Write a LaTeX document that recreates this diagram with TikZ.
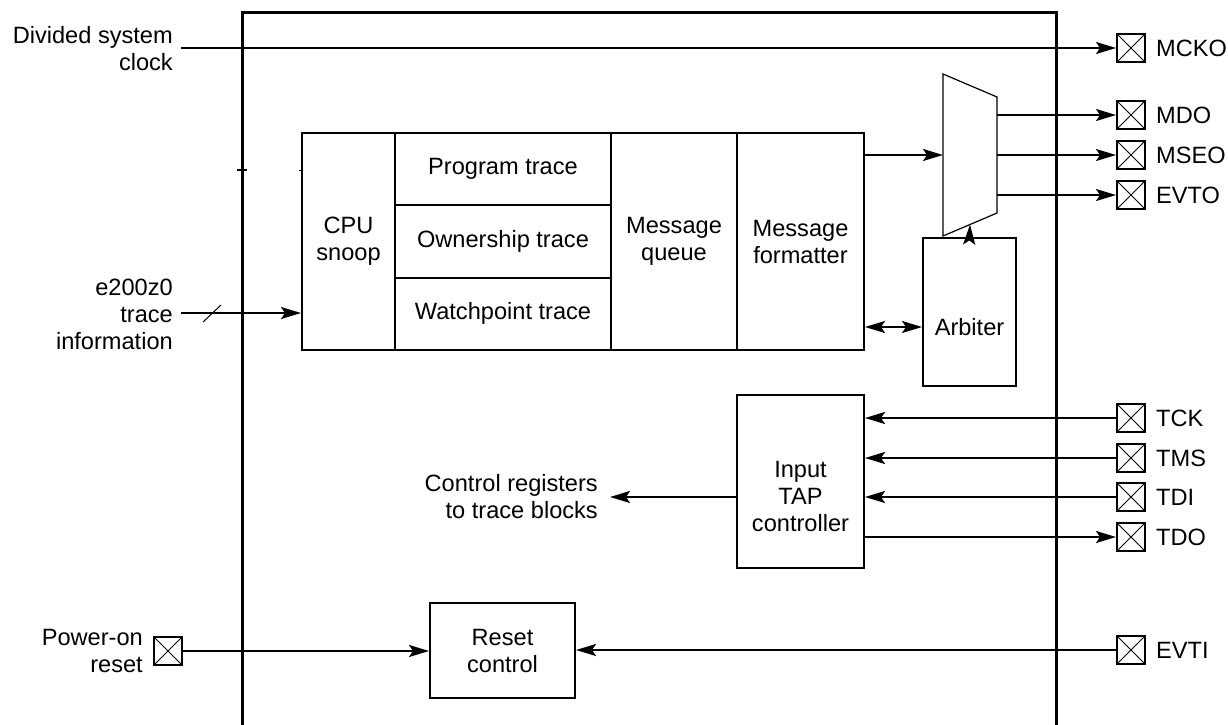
\documentclass[tikz,border=0pt]{standalone}
\usepackage{fontspec}
\setmainfont{Liberation Sans}
\usetikzlibrary{arrows.meta,calc}
\begin{document}
\begin{tikzpicture}[x=1pt,y=-1pt,
  every node/.style={font=\fontsize{23.6}{27}\selectfont, inner sep=0pt},
  blk/.style={draw, line width=2pt, align=center},
  pin/.style={draw, line width=2pt, minimum size=28pt,
    path picture={\draw[line width=1pt]
      (path picture bounding box.north west)--(path picture bounding box.south east)
      (path picture bounding box.north east)--(path picture bounding box.south west);}},
  wire/.style={line width=2pt},
  lbl/.style={align=right, anchor=east},
  pinlbl/.style={anchor=west},
  >={Stealth[length=20pt,width=12pt,inset=4pt]}]
\useasboundingbox (0,0) rectangle (1228,725);
% outer frame (open at bottom)
\draw[line width=3pt] (242,735) -- (242,13) -- (1056,13) -- (1056,735);
% small ticks
\draw[line width=1.5pt] (237,170) -- (247,170);
\draw[line width=1pt] (299,170) -- (303,170);
% main trace block
\node[blk, minimum width=93pt, minimum height=217pt] (snoop) at (348.5,241.5) {CPU\\snoop};
\node[blk, minimum width=216pt, minimum height=72.33pt] (prog) at (503,169.2) {Program trace};
\node[blk, minimum width=216pt, minimum height=72.33pt] (own) at (503,241.5) {Ownership trace};
\node[blk, minimum width=216pt, minimum height=72.33pt] (watch) at (503,313.8) {Watchpoint trace};
\node[blk, minimum width=126pt, minimum height=217pt] (queue) at (674,241.5) {Message\\queue};
\node[blk, minimum width=127pt, minimum height=217pt] (fmt) at (800.5,241.5) {Message\\formatter};
% arbiter
\node[blk, minimum width=93pt, minimum height=148pt,
  label={[yshift=-15pt]center:Arbiter}] (arb) at (969.5,312) {};
% TAP controller
\node[blk, minimum width=127pt, minimum height=173pt,
  label={[yshift=-15pt,align=center]center:Input\\TAP\\controller}] (tap) at (800.5,481.5) {};
% reset control
\node[blk, minimum width=145pt, minimum height=95pt] (rst) at (502.5,650.5) {Reset\\control};
% multiplexer
\coordinate (mtl) at (943,74);
\coordinate (mbl) at (943,236);
\coordinate (mtr) at (997,97);
\coordinate (mbr) at (997,213);
\draw[line width=1.2pt] (mtl) -- (mtr) -- (mbr) -- (mbl) -- cycle;
\coordinate (muxin) at (943,155);
\coordinate (mo1) at (997,115);
\coordinate (mo2) at (997,155);
\coordinate (mo3) at (997,195);
\coordinate (mbot) at ($(mbl)!0.5!(mbr)$);
% pins right
\node[pin] (mcko) at (1131,48) {};
\node[pin] (mdo) at (1131,115) {};
\node[pin] (mseo) at (1131,155) {};
\node[pin] (evto) at (1131,195) {};
\node[pin] (tck) at (1131,418) {};
\node[pin] (tms) at (1131,458) {};
\node[pin] (tdi) at (1131,497) {};
\node[pin] (tdo) at (1131,537) {};
\node[pin] (evti) at (1131,650) {};
\node[pin] (por) at (168,651) {};
\node[pinlbl] at ([xshift=10pt]mcko.east) {MCKO};
\node[pinlbl] at ([xshift=10pt]mdo.east) {MDO};
\node[pinlbl] at ([xshift=10pt]mseo.east) {MSEO};
\node[pinlbl] at ([xshift=10pt]evto.east) {EVTO};
\node[pinlbl] at ([xshift=10pt]tck.east) {TCK};
\node[pinlbl] at ([xshift=10pt]tms.east) {TMS};
\node[pinlbl] at ([xshift=10pt]tdi.east) {TDI};
\node[pinlbl] at ([xshift=10pt]tdo.east) {TDO};
\node[pinlbl] at ([xshift=10pt]evti.east) {EVTI};
% left labels
\node[lbl] (divlbl) at (173,49) {Divided system\\clock};
\node[lbl] (trlbl) at (173,314) {e200z0\\trace\\information};
\node[lbl] (porlbl) at (143,651) {Power-on\\reset};
\node[lbl] (ctllbl) at (598,497) {Control registers\\to trace blocks};
\coordinate (divstart) at (181,48);
\coordinate (trstart) at (181,313);
\coordinate (ctlend) at (610,497);
\coordinate (abline) at (0,327);
% connectors
\draw[wire,->] (divstart) -- (mcko.west);
\draw[wire,->] (trstart) -- (snoop.west |- trstart);
\draw[line width=1pt] (203,322) -- (221,305);
\draw[wire,->] (fmt.east |- muxin) -- (muxin);
\draw[wire,->] (mo1) -- (mdo.west);
\draw[wire,->] (mo2) -- (mseo.west);
\draw[wire,->] (mo3) -- (evto.west);
\draw[wire,->] (arb.north) -- (mbot);
\draw[wire,<->] (fmt.east |- abline) -- (arb.west |- abline);
\draw[wire,->] (tck.west) -- (tck.west -| tap.east);
\draw[wire,->] (tms.west) -- (tms.west -| tap.east);
\draw[wire,->] (tdi.west) -- (tdi.west -| tap.east);
\draw[wire,->] (tdo.west -| tap.east) -- (tdo.west);
\draw[wire,->] (tap.west |- ctlend) -- (ctlend);
\draw[wire,->] (por.east) -- (rst.west |- por.east);
\draw[wire,->] (evti.west) -- (rst.east |- evti.west);
\end{tikzpicture}
\end{document}
